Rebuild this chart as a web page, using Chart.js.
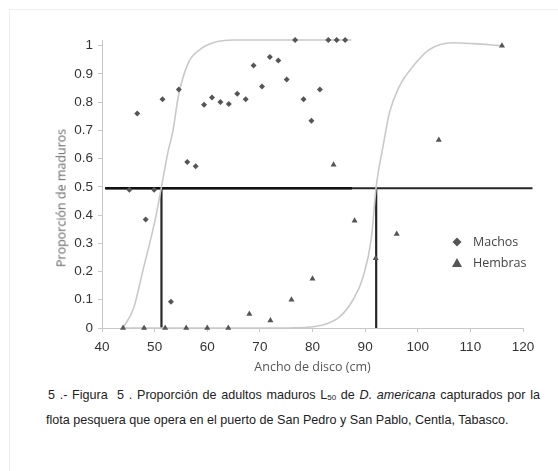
<!DOCTYPE html>
<html>
<head>
<meta charset="utf-8">
<script src="https://cdn.jsdelivr.net/npm/chart.js@4/dist/chart.umd.min.js"></script>
<style>
  body { margin: 0; background: #fff; }
  #wrap { position: relative; width: 558px; height: 471px; overflow: hidden; }
  #frame { position: absolute; left: 9px; top: 9px; right: 0; bottom: 0; border-top: 1px solid #eee; border-left: 1px solid #eee; }
  #plot { position: absolute; left: 0; top: 0; width: 558px; height: 378px; }
  #ytitle { position: absolute; left: 61px; top: 198px; transform: translate(-50%, -50%) rotate(-90deg);
            font: 400 12.5px "Open Sans", sans-serif; color: #666; white-space: nowrap; }
  #caption { position: absolute; left: 46px; top: 384px; font: 12.6px "Liberation Sans", Arial, sans-serif;
             color: #222; line-height: 22px; white-space: nowrap; }
  #caption .l1 { display: block; width: 492px; margin-left: 2px; text-align: justify; text-align-last: justify; white-space: normal; }
  #caption sub { font-size: 8px; vertical-align: -1px; }
</style>
</head>
<body>
<div id="wrap">
  <div id="frame"></div>
  <div id="plot"><canvas id="c"></canvas></div>
  <div id="ytitle">Proporción de maduros</div>
  <div id="caption">
    <span class="l1">5 .- Figura &nbsp;5 . Proporción de adultos maduros L<sub>50</sub> de <i>D. americana</i> capturados por la</span>
    flota pesquera que opera en el puerto de San Pedro y San Pablo, Centla, Tabasco.
  </div>
</div>
<script>
// ── Data ─────────────────────────────────────────────────────────────────────
const machosX = [45.2, 46.7, 48.3, 49.9, 51.5, 53.1, 54.6, 56.2, 57.8, 59.4, 60.9, 62.5, 64.1, 65.7,
                 67.3, 68.8, 70.4, 71.9, 73.5, 75.1, 76.7, 78.3, 79.8, 81.4, 83.0, 84.6, 86.2];
const machosY = [0.49, 0.76, 0.384, 0.49, 0.81, 0.093, 0.845, 0.588, 0.573, 0.791, 0.816, 0.80, 0.793, 0.83,
                 0.81, 0.93, 0.855, 0.96, 0.947, 0.88, 1.02, 0.81, 0.734, 0.845, 1.02, 1.02, 1.02];

const hembrasX = [44, 48, 52, 56, 60, 64, 68, 72, 76, 80, 84, 88, 92, 96, 104, 116];
const hembrasY = [0, 0, 0, 0, 0, 0, 0.05, 0.027, 0.10, 0.174, 0.578, 0.38, 0.247, 0.333, 0.666, 1.0];

// fitted (smoothed) curves
const curvaMachosX = [44, 46, 47.8, 50.1, 51.3, 52.5, 53.5, 54.5, 56.4, 58.6, 61.1, 65, 75, 87.4];
const curvaMachosY = [0, 0.07, 0.206, 0.383, 0.5, 0.62, 0.70, 0.82, 0.939, 0.986, 1.01, 1.02, 1.02, 1.02];
const curvaHembrasX = [44, 70, 78.5, 82.6, 85.2, 87.7, 89.6, 91.2, 92.1, 93.4, 94.6, 96.5, 99.1, 102.2, 106.7, 110.5, 115.9];
const curvaHembrasY = [0, 0, 0.002, 0.014, 0.04, 0.10, 0.18, 0.32, 0.5, 0.643, 0.761, 0.856, 0.927, 0.986, 1.01, 1.007, 1.0];

const l50Machos = 51.3;
const l50Hembras = 92.1;
const nivel50 = 0.495;
const lineaMachosX = [40.6, 87.5];
const lineaHembrasX = [40.6, 121.8];

const xTicks = [40, 50, 60, 70, 80, 90, 100, 110, 120];
const yTicks = [0, 0.1, 0.2, 0.3, 0.4, 0.5, 0.6, 0.7, 0.8, 0.9, 1];
const legendLabels = ["Machos", "Hembras"];

const zip = (xs, ys) => xs.map((x, i) => ({ x, y: ys[i] }));

const markerColor = "#555";
const curveColor = "#c9c9c9";
const refColor = "#262626";

// ── Legend drawn inside the plot ─────────────────────────────────────────────
const legendPlugin = {
  id: "insideLegend",
  afterDraw(chart) {
    const ctx = chart.ctx;
    const x0 = 457, ys = [242, 263];
    ctx.save();
    ctx.fillStyle = markerColor;
    // diamond
    ctx.beginPath();
    ctx.moveTo(x0, ys[0] - 4.5); ctx.lineTo(x0 + 4.5, ys[0]); ctx.lineTo(x0, ys[0] + 4.5); ctx.lineTo(x0 - 4.5, ys[0]);
    ctx.closePath(); ctx.fill();
    // triangle
    ctx.beginPath();
    ctx.moveTo(x0, ys[1] - 5); ctx.lineTo(x0 + 5, ys[1] + 4); ctx.lineTo(x0 - 5, ys[1] + 4);
    ctx.closePath(); ctx.fill();
    ctx.fillStyle = "#444";
    ctx.font = '12.5px "Open Sans", sans-serif';
    ctx.textBaseline = "middle";
    legendLabels.forEach((t, i) => ctx.fillText(t, 473, ys[i]));
    ctx.restore();
  }
};

new Chart(document.getElementById("c"), {
  type: "scatter",
  data: {
    datasets: [
      { label: "Machos", data: zip(machosX, machosY), pointStyle: "rectRot", pointRadius: 3,
        backgroundColor: markerColor, borderColor: markerColor, borderWidth: 0, clip: false },
      { label: "Hembras", data: zip(hembrasX, hembrasY), pointStyle: "triangle", pointRadius: 3.5,
        backgroundColor: markerColor, borderColor: markerColor, borderWidth: 0, clip: false },
      { data: zip(curvaMachosX, curvaMachosY), showLine: true, pointRadius: 0, borderColor: curveColor,
        borderWidth: 1.6, cubicInterpolationMode: "monotone", clip: false },
      { data: zip(curvaHembrasX, curvaHembrasY), showLine: true, pointRadius: 0, borderColor: curveColor,
        borderWidth: 1.6, cubicInterpolationMode: "monotone", clip: false },
      { data: zip(lineaMachosX, [nivel50, nivel50]), showLine: true, pointRadius: 0, borderColor: "#111",
        borderWidth: 2.6, clip: false },
      { data: zip(lineaHembrasX, [nivel50, nivel50]), showLine: true, pointRadius: 0, borderColor: refColor,
        borderWidth: 2.2, clip: false },
      { data: zip([l50Machos, l50Machos], [0, nivel50]), showLine: true, pointRadius: 0, borderColor: refColor,
        borderWidth: 2.2, clip: false },
      { data: zip([l50Hembras, l50Hembras], [0, nivel50]), showLine: true, pointRadius: 0, borderColor: refColor,
        borderWidth: 2.2, clip: false },
    ],
  },
  options: {
    responsive: true, maintainAspectRatio: false, animation: false,
    layout: { padding: { left: 0, right: 35, top: 40, bottom: 0 } },
    plugins: { legend: { display: false }, tooltip: { enabled: false } },
    scales: {
      x: {
        type: "linear", min: 40, max: 120,
        afterBuildTicks: s => { s.ticks = xTicks.map(v => ({ value: v })); },
        afterFit: s => { s.height = 50; },
        border: { color: "#c8c8c8" },
        grid: { drawOnChartArea: false, drawTicks: true, tickLength: 4, color: "#c8c8c8" },
        ticks: { color: "#333", padding: 7, font: { family: "Liberation Sans", size: 13.5 } },
        title: { display: true, text: "Ancho de disco (cm)", color: "#555",
                 font: { family: "Open Sans", size: 12.5 }, padding: { top: 0, bottom: 3.5 } },
      },
      y: {
        type: "linear", min: 0, max: 1.02,
        afterBuildTicks: s => { s.ticks = yTicks.map(v => ({ value: v })); },
        afterFit: s => { s.width = 102; },
        border: { color: "#c8c8c8" },
        grid: { drawOnChartArea: false, drawTicks: true, tickLength: 4, color: "#c8c8c8" },
        ticks: { color: "#333", padding: 5, font: { family: "Liberation Sans", size: 13.5 },
                 callback: v => String(Math.round(v * 10) / 10) },
      },
    },
  },
  plugins: [legendPlugin],
});
</script>
</body>
</html>
